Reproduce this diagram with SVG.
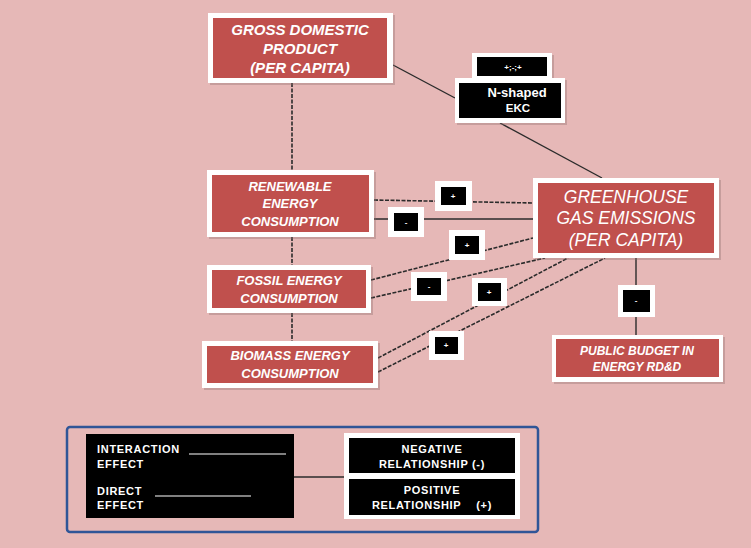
<svg xmlns="http://www.w3.org/2000/svg" width="751" height="548" viewBox="0 0 751 548">
<style>
.bg{fill:#E6B8B7}
.wb{fill:#FFFFFF}
.sh{fill:#8a6a6a;opacity:0.35}
.red{fill:#C0504D}
.blk{fill:#000000}
.t{font-family:"Liberation Sans",Arial,sans-serif;fill:#FFFFFF;text-anchor:middle}
.bi{font-weight:bold;font-style:italic}
.b{font-weight:bold}
.lg{font-family:"Liberation Sans",Arial,sans-serif;fill:#FFFFFF;font-weight:bold;font-size:11px;letter-spacing:0.7px}
.sol{stroke:#2b2b2b;stroke-width:1.4;fill:none}
.dash{stroke:#2b2b2b;stroke-width:1.6;fill:none;stroke-dasharray:4 1.5}
.sign{font-family:"Liberation Sans",Arial,sans-serif;fill:#FFFFFF;font-size:8px;font-weight:bold;text-anchor:middle}
</style>
<rect class="bg" x="0" y="0" width="751" height="548"/>

<g id="connectors">
  <line class="sol" x1="393" y1="65" x2="455" y2="98"/>
  <line class="sol" x1="500" y1="123" x2="602" y2="178"/>
  <line class="dash" x1="292" y1="83" x2="292" y2="170"/>
  <line class="dash" x1="292" y1="237" x2="292" y2="265"/>
  <line class="dash" x1="292" y1="313" x2="292" y2="341"/>
  <line class="dash" x1="374" y1="200" x2="533" y2="203"/>
  <line class="sol" x1="374" y1="219" x2="533" y2="219"/>
  <line class="dash" x1="371" y1="280" x2="533" y2="238"/>
  <line class="dash" x1="371" y1="298" x2="545" y2="258"/>
  <line class="dash" x1="378" y1="358" x2="568" y2="258"/>
  <line class="dash" x1="378" y1="372" x2="605" y2="258"/>
  <line class="sol" x1="636" y1="258" x2="636" y2="335"/>
</g>

<g id="gdp">
  <rect class="sh" x="210" y="15" width="185" height="70"/>
  <rect class="wb" x="208" y="13" width="185" height="70"/>
  <rect class="red" x="213" y="18" width="174" height="60"/>
  <text class="t bi" font-size="15" x="300" y="35">GROSS DOMESTIC</text>
  <text class="t bi" font-size="15" x="300" y="54">PRODUCT</text>
  <text class="t bi" font-size="15" x="300" y="73">(PER CAPITA)</text>
</g>

<g id="ekc">
  <rect class="sh" x="474" y="55" width="80" height="25"/>
  <rect class="wb" x="472" y="53" width="80" height="25"/>
  <rect class="blk" x="477" y="57" width="70" height="19"/>
  <text class="sign" x="513" y="70">+;-;+</text>
  <rect class="sh" x="457" y="80" width="110" height="45"/>
  <rect class="wb" x="455" y="78" width="110" height="45"/>
  <rect class="blk" x="459" y="83" width="102" height="35"/>
  <text class="t b" font-size="13" x="517" y="97">N-shaped</text>
  <text class="t b" font-size="11.5" x="518" y="112">EKC</text>
</g>

<g id="renewable">
  <rect class="sh" x="209" y="172" width="167" height="67"/>
  <rect class="wb" x="207" y="170" width="167" height="67"/>
  <rect class="red" x="212" y="175" width="157" height="57"/>
  <text class="t bi" font-size="13" x="290" y="191">RENEWABLE</text>
  <text class="t bi" font-size="13" x="290" y="208">ENERGY</text>
  <text class="t bi" font-size="13" x="290" y="226">CONSUMPTION</text>
</g>

<g id="fossil">
  <rect class="sh" x="209" y="267" width="164" height="48"/>
  <rect class="wb" x="207" y="265" width="164" height="48"/>
  <rect class="red" x="212" y="270" width="154" height="38"/>
  <text class="t bi" font-size="13" x="289" y="285">FOSSIL ENERGY</text>
  <text class="t bi" font-size="13" x="289" y="303">CONSUMPTION</text>
</g>

<g id="biomass">
  <rect class="sh" x="204" y="343" width="176" height="47"/>
  <rect class="wb" x="202" y="341" width="176" height="47"/>
  <rect class="red" x="207" y="346" width="166" height="37"/>
  <text class="t bi" font-size="13" x="290" y="360">BIOMASS ENERGY</text>
  <text class="t bi" font-size="13" x="290" y="378">CONSUMPTION</text>
</g>

<g id="ghg">
  <rect class="sh" x="535" y="180" width="186" height="80"/>
  <rect class="wb" x="533" y="178" width="186" height="80"/>
  <rect class="red" x="538" y="183" width="176" height="70"/>
  <text class="t" font-style="italic" font-size="17.5" x="626" y="203">GREENHOUSE</text>
  <text class="t" font-style="italic" font-size="17.5" x="626" y="224">GAS EMISSIONS</text>
  <text class="t" font-style="italic" font-size="17.5" x="626" y="246">(PER CAPITA)</text>
</g>

<g id="public">
  <rect class="sh" x="554" y="337" width="171" height="47"/>
  <rect class="wb" x="552" y="335" width="171" height="47"/>
  <rect class="red" x="556" y="339" width="163" height="38"/>
  <text class="t bi" font-size="12" x="637" y="355">PUBLIC BUDGET IN</text>
  <text class="t bi" font-size="12" x="637" y="371">ENERGY RD&amp;D</text>
</g>

<g id="sign-renew-plus">
  <rect class="wb" x="435" y="181" width="37" height="30"/>
  <rect class="blk" x="441" y="187" width="25" height="18"/>
  <text class="sign" x="453" y="199">+</text>
</g>
<g id="sign-renew-minus">
  <rect class="wb" x="388" y="207" width="36" height="30"/>
  <rect class="blk" x="394" y="213" width="24" height="18"/>
  <text class="sign" x="406" y="225">-</text>
</g>
<g id="sign-fossil-plus">
  <rect class="wb" x="449" y="230" width="36" height="30"/>
  <rect class="blk" x="455" y="236" width="24" height="18"/>
  <text class="sign" x="467" y="248">+</text>
</g>
<g id="sign-fossil-minus">
  <rect class="wb" x="411" y="272" width="36" height="29"/>
  <rect class="blk" x="417" y="278" width="24" height="17"/>
  <text class="sign" x="429" y="289">-</text>
</g>
<g id="sign-biomass-plus-1">
  <rect class="wb" x="472" y="278" width="35" height="28"/>
  <rect class="blk" x="478" y="283" width="23" height="18"/>
  <text class="sign" x="489" y="295">+</text>
</g>
<g id="sign-biomass-plus-2">
  <rect class="wb" x="429" y="331" width="35" height="29"/>
  <rect class="blk" x="435" y="337" width="23" height="17"/>
  <text class="sign" x="446" y="348">+</text>
</g>
<g id="sign-ghg-minus">
  <rect class="wb" x="618" y="285" width="37" height="32"/>
  <rect class="blk" x="623" y="290" width="27" height="22"/>
  <text class="sign" x="636" y="303">-</text>
</g>

<g id="legend">
  <rect x="67" y="427" width="471" height="105" rx="3" fill="none" stroke="#2F5597" stroke-width="2.5"/>
  <rect class="blk" x="86" y="434" width="208" height="84"/>
  <text class="lg" x="97" y="453">INTERACTION</text>
  <text class="lg" x="97" y="468">EFFECT</text>
  <line x1="189" y1="454" x2="286" y2="454" stroke="#FFFFFF" stroke-width="1.2"/>
  <text class="lg" x="97" y="495">DIRECT</text>
  <text class="lg" x="97" y="509">EFFECT</text>
  <line x1="155" y1="496" x2="251" y2="496" stroke="#FFFFFF" stroke-width="1.2"/>
  <line class="sol" x1="294" y1="477" x2="345" y2="477"/>
  <rect class="wb" x="344" y="433" width="176" height="86"/>
  <rect class="blk" x="349" y="438" width="166" height="35"/>
  <rect class="blk" x="349" y="479" width="166" height="36"/>
  <text class="lg" text-anchor="middle" x="432" y="453">NEGATIVE</text>
  <text class="lg" text-anchor="middle" x="432" y="468">RELATIONSHIP (-)</text>
  <text class="lg" text-anchor="middle" x="432" y="494">POSITIVE</text>
  <text class="lg" text-anchor="middle" x="432" y="509" xml:space="preserve">RELATIONSHIP    (+)</text>
</g>
</svg>
